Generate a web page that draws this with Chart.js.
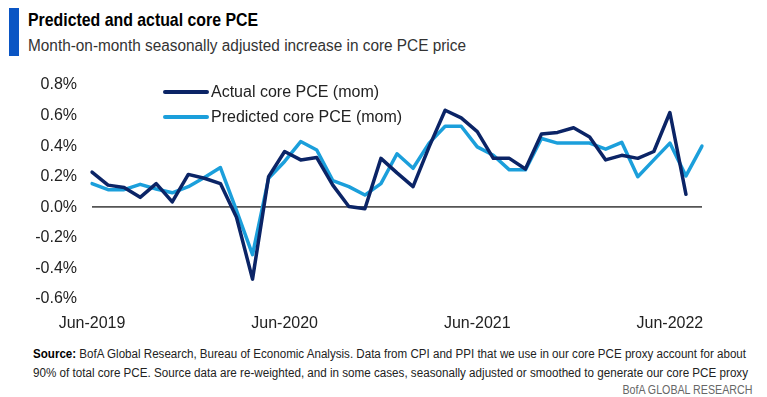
<!DOCTYPE html>
<html>
<head>
<meta charset="utf-8">
<script src="https://cdn.jsdelivr.net/npm/chart.js@4.4.1/dist/chart.umd.min.js"></script>
<style>
  html, body { margin: 0; padding: 0; background: #fff; }
  body { width: 767px; height: 397px; position: relative; overflow: hidden; font-family: 'Liberation Sans', Arial, sans-serif; }
  .bar { position: absolute; left: 9px; top: 8px; width: 10px; height: 48px; background: #0a55c4; }
  .fit { position: absolute; white-space: nowrap; transform-origin: 0 0; display: inline-block; }
  .title { left: 28px; top: 9px; font-weight: bold; font-size: 19px; color: #000; }
  .subtitle { left: 28px; top: 37px; font-size: 16px; color: #333; }
  .chart { position: absolute; left: 0; top: 60px; width: 767px; height: 280px; }
  .src { left: 33px; font-size: 12.5px; color: #222; }
  .src b { color: #000; }
  .brand { font-size: 12.5px; color: #666; transform-origin: 100% 0; }
</style>
</head>
<body>
<div class="bar"></div>
<div class="fit title" data-w="230">Predicted and actual core PCE</div>
<div class="fit subtitle" data-w="438">Month-on-month seasonally adjusted increase in core PCE price</div>
<div class="chart"><canvas id="pce"></canvas></div>
<div class="fit src" style="top:347px" data-w="713"><b>Source:</b> BofA Global Research, Bureau of Economic Analysis. Data from CPI and PPI that we use in our core PCE proxy account for about</div>
<div class="fit src" style="top:366px" data-w="715">90% of total core PCE. Source data are re-weighted, and in some cases, seasonally adjusted or smoothed to generate our core PCE proxy</div>
<div class="fit brand" style="right:15px; top:383px" data-w="130">BofA GLOBAL RESEARCH</div>

<script>
// monthly categories, Jun-2019 .. Aug-2022
const months = [
  'Jun-2019', 'Jul-2019', 'Aug-2019', 'Sep-2019', 'Oct-2019', 'Nov-2019', 'Dec-2019',
  'Jan-2020', 'Feb-2020', 'Mar-2020', 'Apr-2020', 'May-2020', 'Jun-2020', 'Jul-2020',
  'Aug-2020', 'Sep-2020', 'Oct-2020', 'Nov-2020', 'Dec-2020', 'Jan-2021', 'Feb-2021',
  'Mar-2021', 'Apr-2021', 'May-2021', 'Jun-2021', 'Jul-2021', 'Aug-2021', 'Sep-2021',
  'Oct-2021', 'Nov-2021', 'Dec-2021', 'Jan-2022', 'Feb-2022', 'Mar-2022', 'Apr-2022',
  'May-2022', 'Jun-2022', 'Jul-2022', 'Aug-2022',
];

// only these months get a label on the x axis
const xTickLabels = ['Jun-2019', 'Jun-2020', 'Jun-2021', 'Jun-2022'];

// % month-on-month
const actualPce = [
  0.23, 0.145, 0.13, 0.065, 0.155, 0.035, 0.215, 0.19, 0.155, -0.065,
  -0.47, 0.20, 0.365, 0.31, 0.325, 0.145, 0.005, -0.01, 0.32, 0.225,
  0.135, 0.395, 0.635, 0.585, 0.495, 0.32, 0.32, 0.25, 0.48, 0.49,
  0.52, 0.46, 0.31, 0.34, 0.32, 0.365, 0.62, 0.085,
];

const predictedPce = [
  0.155, 0.115, 0.115, 0.15, 0.12, 0.095, 0.135, 0.195, 0.26, -0.02,
  -0.31, 0.19, 0.30, 0.43, 0.375, 0.175, 0.135, 0.08, 0.155, 0.35,
  0.255, 0.42, 0.53, 0.53, 0.395, 0.34, 0.245, 0.245, 0.45, 0.42,
  0.42, 0.42, 0.38, 0.425, 0.20, 0.31, 0.42, 0.205, 0.40,
];

const yTicks = { min: -0.6, max: 0.8, step: 0.2 };

const NAVY  = '#0b2466';
const LIGHT = '#1b9fdb';

// squeeze the header/footer text to the condensed widths of the original
document.querySelectorAll('.fit').forEach(el => {
  const w = el.getBoundingClientRect().width;
  el.style.transform = `scaleX(${el.dataset.w / w})`;
});

Chart.defaults.font.family = "'Liberation Sans', Arial, sans-serif";
Chart.defaults.font.size = 16;
Chart.defaults.color = '#222';

// legend drawn inside the plot, top-left
const insideLegend = {
  id: 'insideLegend',
  afterDatasetsDraw(chart) {
    const { ctx, chartArea } = chart;
    const x0 = chartArea.left + 73;
    ctx.save();
    ctx.font = "16px 'Liberation Sans', Arial, sans-serif";
    ctx.textBaseline = 'middle';
    chart.data.datasets.forEach((ds, i) => {
      const y = chartArea.top + 7 + i * 25;
      ctx.strokeStyle = ds.borderColor;
      ctx.lineWidth = 4;
      ctx.lineCap = 'round';
      ctx.beginPath();
      ctx.moveTo(x0, y);
      ctx.lineTo(x0 + 42, y);
      ctx.stroke();
      ctx.fillStyle = '#222';
      ctx.fillText(ds.label, x0 + 46, y + 1);
    });
    ctx.restore();
  },
};

new Chart(document.getElementById('pce'), {
  type: 'line',
  data: {
    labels: months,
    datasets: [
      {
        label: 'Actual core PCE (mom)',
        data: actualPce,
        borderColor: NAVY,
        borderWidth: 3.5,
      },
      {
        label: 'Predicted core PCE (mom)',
        data: predictedPce,
        borderColor: LIGHT,
        borderWidth: 3.5,
      },
    ],
  },
  options: {
    responsive: true,
    maintainAspectRatio: false,
    animation: false,
    layout: { padding: { top: 25, right: 65, left: 0, bottom: 0 } },
    elements: {
      line: { tension: 0, borderJoinStyle: 'round', borderCapStyle: 'round' },
      point: { radius: 0 },
    },
    plugins: {
      legend: { display: false },
      tooltip: { enabled: false },
    },
    scales: {
      x: {
        offset: false,
        grid: { display: false, drawTicks: false },
        border: { display: false },
        ticks: {
          autoSkip: false,
          maxRotation: 0,
          padding: 15,
          color: '#222',
          callback(value) {
            const lab = this.getLabelForValue(value);
            return xTickLabels.includes(lab) ? lab : null;
          },
        },
        afterFit(scale) { scale.height = 41; },
      },
      y: {
        min: yTicks.min,
        max: yTicks.max,
        border: { display: false },
        grid: {
          drawTicks: false,
          lineWidth: 1.8,
          color: ctx => (Math.abs(ctx.tick.value) < 1e-9 ? '#555' : 'transparent'),
        },
        ticks: {
          stepSize: yTicks.step,
          padding: 15,
          color: '#222',
          callback: v => (Math.abs(v) < 1e-9 ? '0.0' : v.toFixed(1)) + '%',
        },
        afterFit(scale) { scale.width = 92; },
      },
    },
  },
  plugins: [insideLegend],
});
</script>
</body>
</html>
